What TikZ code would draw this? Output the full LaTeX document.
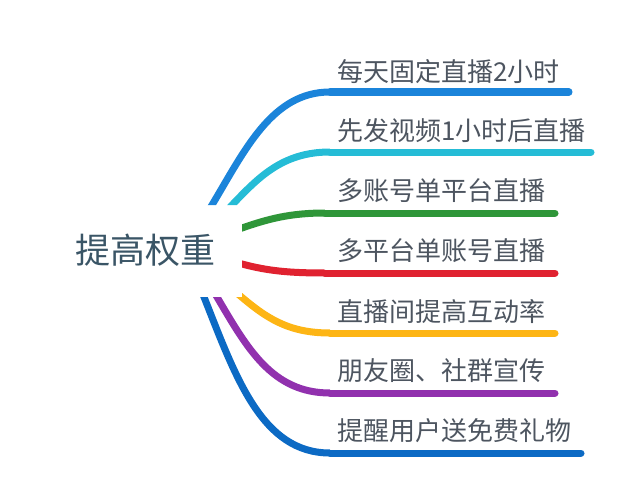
\documentclass[tikz,border=0pt]{standalone}
\usepackage{fontspec}
\newfontfamily\cjk{Noto Sans CJK SC}
\definecolor{cA}{HTML}{1B84DA}
\definecolor{cB}{HTML}{25BCD6}
\definecolor{cC}{HTML}{2F9639}
\definecolor{cD}{HTML}{E02230}
\definecolor{cE}{HTML}{FDB515}
\definecolor{cF}{HTML}{9131AE}
\definecolor{cG}{HTML}{0C6AC4}
\definecolor{leafgray}{HTML}{4D5560}
\definecolor{rootgray}{HTML}{3A5566}

\begin{document}
\begin{tikzpicture}[x=1pt,y=-1pt,
  twig/.style={line width=7pt,#1},
  bar/.style={line width=7pt,line cap=round,#1},
  leaf/.style={font=\cjk\fontsize{26}{26}\selectfont,text=leafgray,inner sep=0pt,anchor=west}]
\useasboundingbox (0,0) rectangle (640,503);

\node[font=\cjk\fontsize{35}{35}\selectfont,text=rootgray,inner sep=0pt] (root) at (145,250) {提高权重};

\coordinate (b1) at (204,218);
\coordinate (s1) at (212,205);
\coordinate (j1) at (330,92);
\coordinate (e1) at (569,92);
\coordinate (b2) at (222,216);
\coordinate (s2) at (232,205);
\coordinate (j2) at (330,152);
\coordinate (e2) at (591,152);
\coordinate (b3) at (228,233);
\coordinate (s3) at (242,228);
\coordinate (j3) at (325,213);
\coordinate (e3) at (555,213);
\coordinate (b4) at (228,260);
\coordinate (s4) at (242,264);
\coordinate (j4) at (325,273);
\coordinate (e4) at (555,273);
\coordinate (b5) at (227,284);
\coordinate (s5) at (238,294);
\coordinate (j5) at (330,333);
\coordinate (e5) at (555,333);
\coordinate (b6) at (209,284);
\coordinate (s6) at (217,297);
\coordinate (j6) at (330,393);
\coordinate (e6) at (555,393);
\coordinate (b7) at (198,283);
\coordinate (s7) at (204,297);
\coordinate (j7) at (330,453);
\coordinate (e7) at (581,453);

\begin{scope}
\clip (0,0) -- (640,0) -- (640,503) -- (0,503) -- (0,297) -- (242,297) -- (242,205) -- (0,205) -- cycle;
\draw[twig=cA] (b1) -- (s1) .. controls (245,150) and (272,92) .. (j1);
\draw[twig=cB] (b2) -- (s2) .. controls (258,178) and (282,152) .. (j2);
\draw[twig=cC] (b3) -- (s3) .. controls (268,219) and (290,213) .. (j3);
\draw[twig=cD] (b4) -- (s4) .. controls (268,271) and (290,273) .. (j4);
\draw[twig=cE] (b5) -- (s5) .. controls (266,318) and (288,333) .. (j5);
\draw[twig=cF] (b6) -- (s6) .. controls (247,348) and (272,393) .. (j6);
\draw[twig=cG] (b7) -- (s7) .. controls (236,378) and (262,453) .. (j7);
\end{scope}

\draw[bar=cA] (j1) -- (e1);
\draw[bar=cB] (j2) -- (e2);
\draw[bar=cC] (j3) -- (e3);
\draw[bar=cD] (j4) -- (e4);
\draw[bar=cE] (j5) -- (e5);
\draw[bar=cF] (j6) -- (e6);
\draw[bar=cG] (j7) -- (e7);

\node[leaf] (t1) at (337,72) {每天固定直播2小时};
\node[leaf] (t2) at (337,131) {先发视频1小时后直播};
\node[leaf] (t3) at (337,191) {多账号单平台直播};
\node[leaf] (t4) at (337,251) {多平台单账号直播};
\node[leaf] (t5) at (337,312) {直播间提高互动率};
\node[leaf] (t6) at (337,371) {朋友圈、社群宣传};
\node[leaf] (t7) at (337,431) {提醒用户送免费礼物};
\end{tikzpicture}
\end{document}
